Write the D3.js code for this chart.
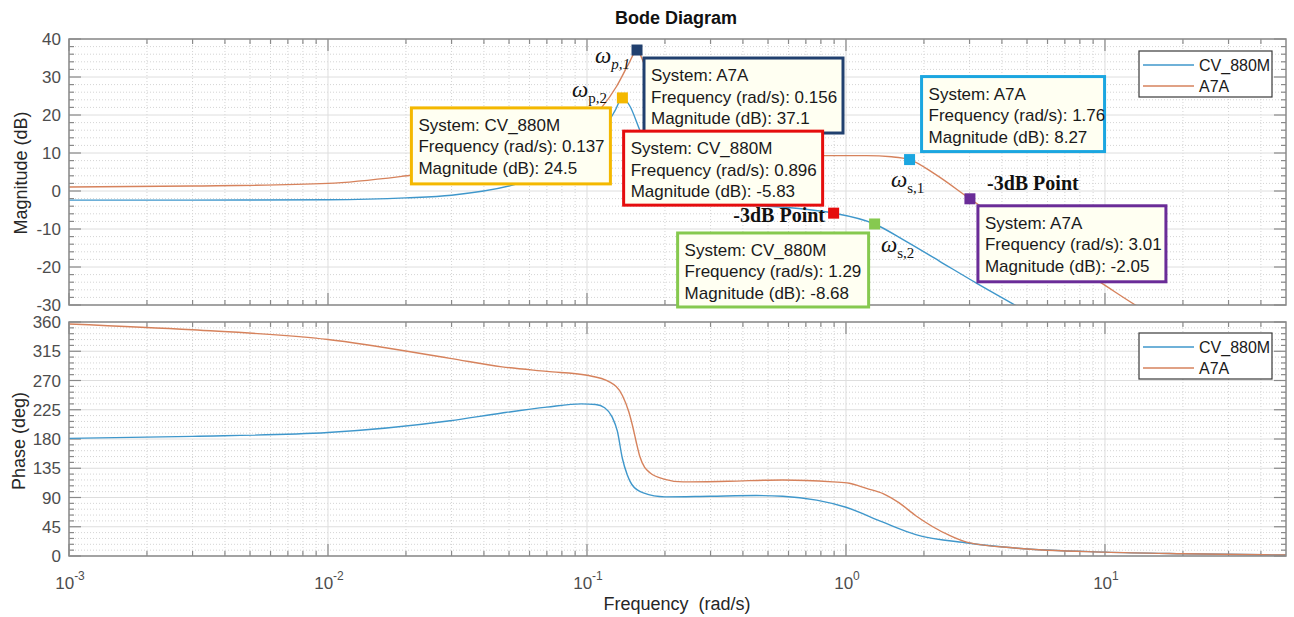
<!DOCTYPE html>
<html>
<head>
<meta charset="utf-8">
<script src="https://cdn.jsdelivr.net/npm/d3@7"></script>
<style>
  body { margin: 0; background: #fff; }
  svg { display: block; font-family: Arial, "Liberation Sans", sans-serif; }
  .tick-label { fill: #4d4d4d; font-size: 17px; }
  .axis-title { fill: #262626; font-size: 18px; }
  .tip text { fill: #1a1a1a; font-size: 17px; }
  .note { font-family: "Liberation Serif", "Times New Roman", serif; fill: #111; }
</style>
</head>
<body>
<svg id="chart" width="1294" height="617"></svg>
<script>
// ---- data ----
const seriesNames = ['CV_880M', 'A7A'];
const seriesColors = ['#3f97cb', '#d6825c'];

const cvMagFreq = [0.001, 0.003, 0.01, 0.02, 0.03, 0.052, 0.07, 0.09, 0.105, 0.118, 0.128, 0.137, 0.146, 0.16, 0.18, 0.21, 0.26, 0.35, 0.5, 0.7, 0.82, 0.896, 1.29, 1.7, 2.3, 3.2, 4.49, 6];
const cvMagDb   = [-2.4, -2.4, -2.3, -1.8, -1.1, 1.6, 4.5, 8.5, 12.5, 17, 21, 24.5, 22.5, 16, 8, 1, -2.5, -3.5, -4, -4.8, -5.4, -5.83, -8.68, -13.2, -18.5, -24.3, -30, -35];

const a7aMagFreq = [0.001, 0.003, 0.01, 0.0213, 0.03, 0.05, 0.07, 0.09, 0.114, 0.13, 0.145, 0.156, 0.165, 0.18, 0.2, 0.25, 0.35, 0.5, 0.82, 1.2, 1.5, 1.76, 2.2, 3.01, 4, 6, 9.57, 13.1, 20];
const a7aMagDb   = [1.05, 1.3, 2.0, 4.2, 5.5, 8.5, 12, 16, 22, 27.5, 33.5, 37.1, 34, 26, 19, 13, 10.5, 9.6, 9.3, 9.3, 9.0, 8.27, 4.5, -2.05, -7.8, -15.5, -24, -30, -37];

const cvPhFreq = [0.001, 0.003, 0.01, 0.0296, 0.047, 0.07, 0.095, 0.108, 0.117, 0.125, 0.131, 0.137, 0.143, 0.149, 0.165, 0.2, 0.3, 0.45, 0.57, 0.77, 1.0, 1.39, 1.86, 2.95, 4.6, 10, 20, 50];
const cvPhDeg  = [181, 184, 190, 208, 220, 229, 234, 233, 228, 214, 192, 150, 125, 110, 97, 91, 92, 93, 92, 86, 75, 52, 33, 20, 12, 6, 3.5, 1.5];

const a7aPhFreq = [0.001, 0.003, 0.01, 0.0296, 0.047, 0.07, 0.1, 0.122, 0.137, 0.145, 0.15, 0.155, 0.16, 0.175, 0.2, 0.235, 0.35, 0.57, 0.89, 1.03, 1.2, 1.39, 1.6, 1.86, 2.5, 2.95, 4.6, 10, 20, 50];
const a7aPhDeg  = [357, 348, 333, 304, 291, 284, 278, 268, 247, 222, 200, 175, 153, 128, 118, 114, 115, 117, 114, 112, 104, 96, 82, 62, 32, 21, 12, 6, 3.5, 1.5];

// data tips: system index, frequency, magnitude, colour
const tipSystem = [0, 1, 0, 0, 1, 1];
const tipFreq   = [0.137, 0.156, 0.896, 1.29, 1.76, 3.01];
const tipMag    = [24.5, 37.1, -5.83, -8.68, 8.27, -2.05];
const tipColor  = ['#f4b800', '#21406f', '#e50d0d', '#86c94f', '#1ba6e0', '#6a2c98'];

const magTicks = [-30, -20, -10, 0, 10, 20, 30, 40];
const phaseTicks = [0, 45, 90, 135, 180, 225, 270, 315, 360];
const decadeExps = [-3, -2, -1, 0, 1];

// ---- layout ----
const svg = d3.select('#chart');
const xLeft = 69, xRight = 1286;
const magTop = 39, magBot = 305, phTop = 322, phBot = 556;

const x = d3.scaleLog().domain([1e-3, 50]).range([xLeft, xRight]);
const yMag = d3.scaleLinear().domain([-30, 40]).range([magBot, magTop]);
const yPh = d3.scaleLinear().domain([0, 360]).range([phBot, phTop]);

const minorX = [];
decadeExps.forEach(e => {
  for (let k = 2; k <= 9; k++) {
    const v = k * Math.pow(10, e);
    if (v < 50) minorX.push(v);
  }
});

function panel(y, top, bot, majors, minorStep, clipId) {
  const g = svg.append('g');
  const [lo, hi] = y.domain();
  const minorY = d3.range(lo, hi + 1e-9, minorStep).filter(v => !majors.includes(v));

  // minor grid (dotted)
  g.selectAll('.mgx').data(minorX).enter().append('line')
    .attr('x1', d => x(d)).attr('x2', d => x(d)).attr('y1', top).attr('y2', bot)
    .attr('stroke', '#d4d4d4').attr('stroke-dasharray', '1,2');
  g.selectAll('.mgy').data(minorY).enter().append('line')
    .attr('x1', xLeft).attr('x2', xRight).attr('y1', d => y(d)).attr('y2', d => y(d))
    .attr('stroke', '#d4d4d4').attr('stroke-dasharray', '1,2');
  // major grid
  g.selectAll('.gx').data(decadeExps.map(e => Math.pow(10, e))).enter().append('line')
    .attr('x1', d => x(d)).attr('x2', d => x(d)).attr('y1', top).attr('y2', bot)
    .attr('stroke', '#dedede');
  g.selectAll('.gy').data(majors).enter().append('line')
    .attr('x1', xLeft).attr('x2', xRight).attr('y1', d => y(d)).attr('y2', d => y(d))
    .attr('stroke', '#dedede');

  // ticks, pointing inward on all four sides
  const tk = g.append('g').attr('stroke', '#8a8a8a').attr('stroke-width', 1.2);
  const xt = minorX.map(v => ({ v, len: 5 })).concat(decadeExps.map(e => ({ v: Math.pow(10, e), len: 12 })));
  xt.forEach(t => {
    tk.append('line').attr('x1', x(t.v)).attr('x2', x(t.v)).attr('y1', bot).attr('y2', bot - t.len);
    tk.append('line').attr('x1', x(t.v)).attr('x2', x(t.v)).attr('y1', top).attr('y2', top + t.len);
  });
  const yt = minorY.map(v => ({ v, len: 5 })).concat(majors.map(v => ({ v, len: 12 })));
  yt.forEach(t => {
    tk.append('line').attr('x1', xLeft).attr('x2', xLeft + t.len).attr('y1', y(t.v)).attr('y2', y(t.v));
    tk.append('line').attr('x1', xRight).attr('x2', xRight - t.len).attr('y1', y(t.v)).attr('y2', y(t.v));
  });

  g.selectAll('.yl').data(majors).enter().append('text')
    .attr('class', 'tick-label')
    .attr('x', 61).attr('y', d => y(d) + 6)
    .attr('text-anchor', 'end')
    .text(d => d);

  svg.append('clipPath').attr('id', clipId).append('rect')
    .attr('x', xLeft).attr('y', top).attr('width', xRight - xLeft).attr('height', bot - top);
  return g;
}

panel(yMag, magTop, magBot, magTicks, 2, 'clipMag');
panel(yPh, phTop, phBot, phaseTicks, 9, 'clipPh');

function drawLine(freqs, vals, y, color, clipId) {
  const pts = freqs.map((f, i) => [x(f), y(vals[i])]);
  svg.append('path')
    .attr('clip-path', `url(#${clipId})`)
    .attr('d', d3.line().curve(d3.curveMonotoneX)(pts))
    .attr('fill', 'none').attr('stroke', color).attr('stroke-width', 1.4);
}

drawLine(cvMagFreq, cvMagDb, yMag, seriesColors[0], 'clipMag');
drawLine(a7aMagFreq, a7aMagDb, yMag, seriesColors[1], 'clipMag');
drawLine(cvPhFreq, cvPhDeg, yPh, seriesColors[0], 'clipPh');
drawLine(a7aPhFreq, a7aPhDeg, yPh, seriesColors[1], 'clipPh');

// axis boxes
[[magTop, magBot], [phTop, phBot]].forEach(([t, b]) => {
  svg.append('rect').attr('x', xLeft).attr('y', t).attr('width', xRight - xLeft).attr('height', b - t)
    .attr('fill', 'none').attr('stroke', '#8a8a8a').attr('stroke-width', 1.5);
});

// x tick labels 10^n
const xl = svg.append('g');
decadeExps.forEach(e => {
  const t = xl.append('text').attr('class', 'tick-label').attr('x', x(Math.pow(10, e)) + 1).attr('y', 589)
    .attr('text-anchor', 'middle');
  t.append('tspan').text('10');
  t.append('tspan').attr('dy', -9).attr('font-size', 12).text(e);
});

// titles
svg.append('text').attr('x', 676).attr('y', 24).attr('text-anchor', 'middle')
  .attr('font-weight', 'bold').attr('font-size', 18).attr('fill', '#111').text('Bode Diagram');
svg.append('text').attr('class', 'axis-title').attr('x', 677).attr('y', 610).attr('text-anchor', 'middle')
  .style('white-space', 'pre').text('Frequency  (rad/s)');
svg.append('text').attr('class', 'axis-title').attr('transform', 'translate(27,173) rotate(-90)')
  .attr('text-anchor', 'middle').text('Magnitude (dB)');
svg.append('text').attr('class', 'axis-title').attr('transform', 'translate(25,441) rotate(-90)')
  .attr('text-anchor', 'middle').text('Phase (deg)');

// legends
[[51, 97], [333, 379]].forEach(([t, b]) => {
  const lg = svg.append('g');
  lg.append('rect').attr('x', 1139).attr('y', t).attr('width', 133).attr('height', b - t)
    .attr('fill', '#fff').attr('stroke', '#3a3a3a').attr('stroke-width', 1.2);
  seriesNames.forEach((n, i) => {
    const yy = t + 14 + i * 21;
    lg.append('line').attr('x1', 1143).attr('x2', 1194).attr('y1', yy).attr('y2', yy)
      .attr('stroke', seriesColors[i]).attr('stroke-width', 1.4);
    lg.append('text').attr('x', 1199).attr('y', yy + 6).attr('font-size', 16).attr('fill', '#1a1a1a').text(n);
  });
});

// data tips (box offsets relative to the marker, in px)
const tipBox = [
  { dx: -211, dy: 10, w: 199, h: 76 },
  { dx: 7, dy: 8, w: 199, h: 75 },
  { dx: -210, dy: -82, w: 199, h: 74 },
  { dx: -197, dy: 9, w: 191, h: 74 },
  { dx: 12, dy: -83, w: 183, h: 75 },
  { dx: 8, dy: 7, w: 188, h: 76 }
];
tipFreq.forEach((f, i) => {
  const mx = x(f), my = yMag(tipMag[i]);
  svg.append('rect').attr('x', mx - 5.5).attr('y', my - 5.5).attr('width', 11).attr('height', 11)
    .attr('fill', tipColor[i]);
  const b = tipBox[i];
  const g = svg.append('g').attr('class', 'tip');
  g.append('rect').attr('x', mx + b.dx).attr('y', my + b.dy).attr('width', b.w).attr('height', b.h)
    .attr('fill', '#fffff2').attr('stroke', tipColor[i]).attr('stroke-width', 3);
  const lines = ['System: ' + seriesNames[tipSystem[i]],
                 'Frequency (rad/s): ' + f,
                 'Magnitude (dB): ' + tipMag[i]];
  lines.forEach((s, k) => {
    g.append('text').attr('x', mx + b.dx + 7).attr('y', my + b.dy + 23 + k * 21.5).text(s);
  });
});

// hand-written notes
function omega(px, py, sub, italicSub) {
  const t = svg.append('text').attr('class', 'note').attr('x', px).attr('y', py);
  t.append('tspan').attr('font-style', 'italic').attr('font-size', 23).text('ω');
  t.append('tspan').attr('font-size', 15).attr('dy', 6)
    .attr('font-style', italicSub ? 'italic' : 'normal').text(sub);
}
omega(595, 63, 'p,1', true);
omega(572, 97, 'p,2', false);
omega(891, 187, 's,1', false);
omega(881, 252, 's,2', false);

svg.append('text').attr('class', 'note').attr('x', 825).attr('y', 222).attr('text-anchor', 'end')
  .attr('font-weight', 'bold').attr('font-size', 20).text('-3dB Point');
svg.append('text').attr('class', 'note').attr('x', 987).attr('y', 190)
  .attr('font-weight', 'bold').attr('font-size', 20).text('-3dB Point');
</script>
</body>
</html>
